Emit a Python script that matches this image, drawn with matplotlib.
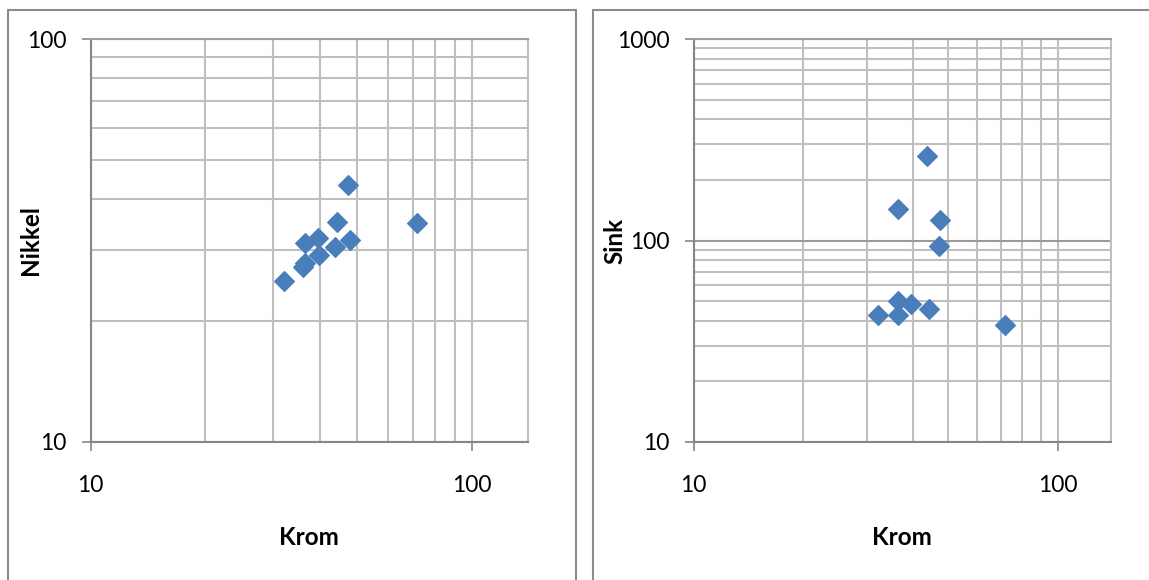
import matplotlib.pyplot as plt
from matplotlib.patches import Rectangle
from matplotlib.ticker import FixedLocator, NullFormatter, FixedFormatter

# data
krom_ni = [47.2, 44.2, 71.7, 39.4, 36.4, 47.7, 43.8, 39.6, 36.5, 36.0, 32.1]
nikkel = [43.3, 35.2, 35.0, 32.0, 31.1, 31.7, 30.5, 29.1, 27.8, 27.2, 25.1]

krom_zn = [43.9, 36.4, 47.6, 47.3, 36.5, 39.6, 44.2, 32.2, 36.5, 71.7]
sink = [263, 144, 127, 94, 50, 48.6, 45.9, 42.5, 42.5, 37.9]

plt.rcParams['font.family'] = ['Lato', 'DejaVu Sans']

blue = '#4A7EBB'
grid_c = '#BFBFBF'
axis_c = '#868686'

W, H = 1149, 580
fig = plt.figure(figsize=(W / 100, H / 100), dpi=100)

# panel frames
fig.add_artist(Rectangle((8 / W, -0.1), 568 / W, 1.1 - 10 / H, transform=fig.transFigure,
                         fill=False, edgecolor='#8C8C8C', lw=1.5))
fig.add_artist(Rectangle((593 / W, -0.1), 0.6, 1.1 - 10 / H, transform=fig.transFigure,
                         fill=False, edgecolor='#8C8C8C', lw=1.5))

bottom = 1 - 442 / H
height = (442 - 39) / H
ax1 = fig.add_axes([90.6 / W, bottom, (528 - 90.6) / W, height])
ax2 = fig.add_axes([693.6 / W, bottom, (1110.8 - 693.6) / W, height])


def style(ax, ylo, yhi, ylabel, ylab_x):
    ax.set_xscale('log')
    ax.set_yscale('log')
    ax.set_xlim(10, 140)
    ax.set_ylim(ylo, yhi)
    ymaj = [v for v in [10, 100, 1000] if ylo <= v <= yhi]
    ymin = [m * d for d in [10, 100] for m in range(2, 10) if ylo < m * d < yhi]
    ax.yaxis.set_major_locator(FixedLocator(ymaj))
    ax.yaxis.set_major_formatter(FixedFormatter([str(v) for v in ymaj]))
    ax.yaxis.set_minor_locator(FixedLocator(ymin))
    ax.yaxis.set_minor_formatter(NullFormatter())
    ax.xaxis.set_major_locator(FixedLocator([10, 100]))
    ax.xaxis.set_major_formatter(FixedFormatter(['10', '100']))
    ax.xaxis.set_minor_locator(FixedLocator([20, 30, 40, 50, 60, 70, 80, 90]))
    ax.xaxis.set_minor_formatter(NullFormatter())

    ax.grid(True, which='both', axis='x', color=grid_c, lw=1.5)
    ax.grid(True, which='minor', axis='y', color=grid_c, lw=1.5)
    ax.grid(True, which='major', axis='y', color='#9A9A9A', lw=1.5)
    ax.set_axisbelow(True)

    for s in ['left', 'bottom']:
        ax.spines[s].set_color(axis_c)
        ax.spines[s].set_linewidth(1.5)
    ax.spines['top'].set_color('#A0A0A0')
    ax.spines['top'].set_linewidth(1.5)
    ax.spines['right'].set_color(grid_c)
    ax.spines['right'].set_linewidth(1.5)

    ax.tick_params(which='major', direction='out', length=6.5, width=1.2,
                   color=axis_c, labelsize=16.5, labelcolor='black')
    ax.tick_params(axis='x', which='major', pad=17)
    ax.tick_params(axis='y', which='major', pad=11)
    ax.tick_params(which='minor', length=0)

    ax.set_xlabel('Krom', fontsize=17.5, fontweight='bold')
    ax.xaxis.set_label_coords(0.5, -0.208)
    ax.set_ylabel(ylabel, fontsize=17.5, fontweight='bold')
    ax.yaxis.set_label_coords(ylab_x, 0.5)


style(ax1, 10, 100, 'Nikkel', -0.112)
style(ax2, 10, 1000, 'Sink', -0.162)

ax1.scatter(krom_ni, nikkel, marker='D', s=100, color=blue, zorder=3, clip_on=False)
ax2.scatter(krom_zn, sink, marker='D', s=100, color=blue, zorder=3, clip_on=False)

fig.savefig('out.png', dpi=100)
